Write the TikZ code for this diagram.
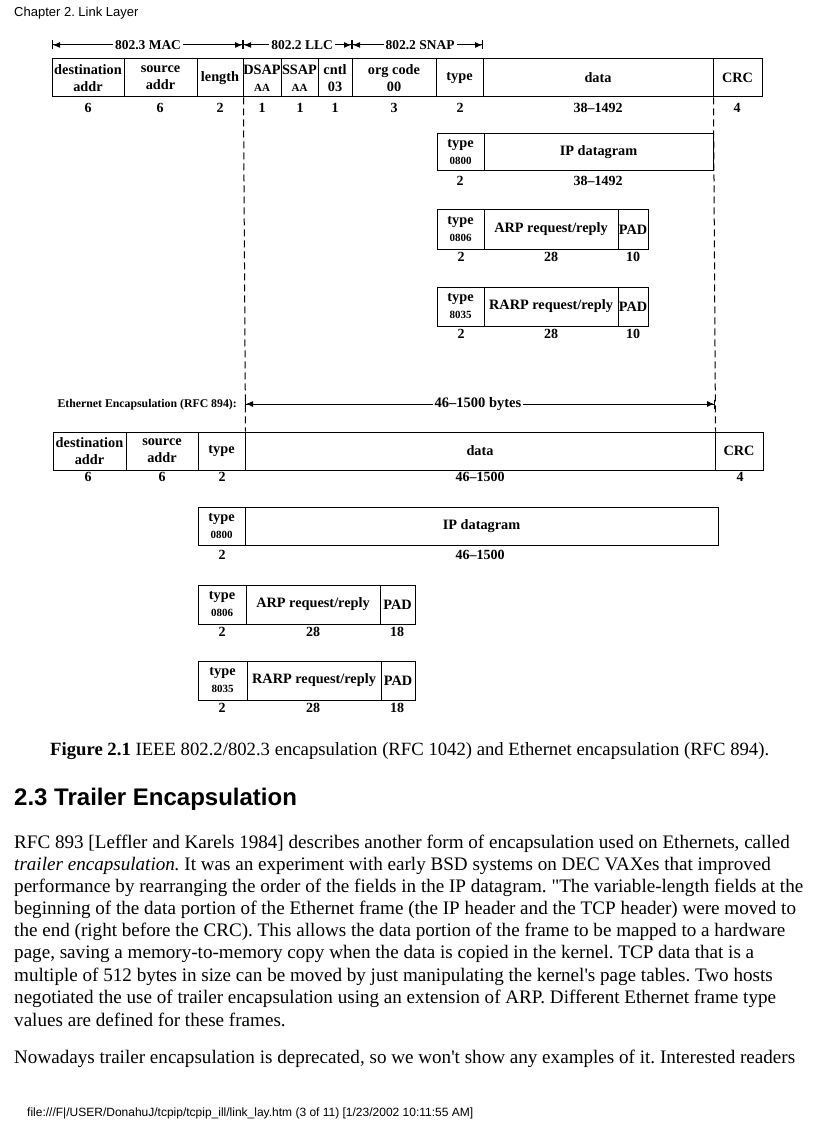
\documentclass[tikz,border=0pt]{standalone}
\usepackage{fontspec}
\setmainfont{Liberation Serif}
\newfontfamily\arialfont{Liberation Sans}
\usetikzlibrary{arrows.meta}
\frenchspacing
\tikzset{
  fieldbox/.style={draw, line width=1pt, inner sep=0pt, align=center,
    font=\fontsize{14.3}{17}\selectfont\bfseries},
  szlab/.style={inner sep=0pt, font=\fontsize{14}{14}\selectfont\bfseries},
  spanarrow/.style={line width=1pt, {Bar[width=9pt]Latex[length=7pt,width=6pt]}-{Latex[length=7pt,width=6pt]Bar[width=9pt]}},
  spanlab/.style={fill=white, inner sep=2pt, font=\fontsize{13.5}{14}\selectfont\bfseries},
  guide/.style={line width=1pt, dash pattern=on 7pt off 4pt},
  bodytext/.style={anchor=base west, inner sep=0pt, font=\fontsize{19.1}{22}\selectfont},
}
\newcommand\fld[6]{\node[fieldbox, minimum width={(#3-#2)*1pt}, minimum height={(#5-#4)*1pt}] (#1) at ({(#2+#3)/2},{(#4+#5)/2}) {#6};}
\newcommand\sz[4]{\node[szlab] (#1) at (#2,#3) {#4};}
\newcommand\sm[1]{{\fontsize{11}{12}\selectfont #1}}
\begin{document}
\begin{tikzpicture}[x=1pt,y=-1pt]
\useasboundingbox (0,0) rectangle (816,1123);
\fill[white] (0,0) rectangle (816,1123);

% header
\node[anchor=base west, inner sep=0pt, font=\arialfont\fontsize{13}{13}\selectfont] (hdr) at (14,17) {Chapter 2. Link Layer};

% ---------- IEEE 802.2/802.3 ----------
\coordinate (m0) at (52,45);
\coordinate (m1) at (243,45);
\coordinate (m2) at (352,45);
\coordinate (m3) at (483,45);
\draw[spanarrow] (m0) -- (m1);
\draw[spanarrow] (m1) -- (m2);
\draw[spanarrow] (m2) -- (m3);
\node[spanlab] (lmac) at (148,45) {802.3 MAC};
\node[spanlab] (lllc) at (302,45) {802.2 LLC};
\node[spanlab] (lsnap) at (420,45) {802.2 SNAP};

\fld{a1}{52}{124}{59}{97}{destination\\addr}
\fld{a2}{124}{197}{59}{97}{source\\addr}
\fld{a3}{197}{243}{59}{97}{length}
\fld{a4}{243}{281}{59}{97}{DSAP\\\sm{AA}}
\fld{a5}{281}{318}{59}{97}{SSAP\\\sm{AA}}
\fld{a6}{318}{352}{59}{97}{cntl\\03}
\fld{a7}{352}{436}{59}{97}{org code\\00}
\fld{a8}{436}{483}{59}{97}{type}
\fld{a9}{483}{713}{59}{97}{data}
\fld{a10}{713}{762}{59}{97}{CRC}
\sz{n1}{88}{108}{6}
\sz{n2}{160}{108}{6}
\sz{n3}{220}{108}{2}
\sz{n4}{262}{108}{1}
\sz{n5}{300}{108}{1}
\sz{n6}{335}{108}{1}
\sz{n7}{394}{108}{3}
\sz{n8}{460}{108}{2}
\sz{n9}{598}{108}{38--1492}
\sz{n10}{737}{108}{4}

\fld{b1}{437}{484}{134}{171}{type\\\sm{0800}}
\fld{b2}{484}{713}{134}{171}{IP datagram}
\sz{bn1}{460}{181}{2}
\sz{bn2}{598}{181}{38--1492}

\fld{c1}{437}{484}{210}{249}{type\\\sm{0806}}
\fld{c2}{484}{618}{210}{249}{ARP request/reply}
\fld{c3}{618}{648}{210}{249}{PAD}
\sz{cn1}{461}{257}{2}
\sz{cn2}{551}{257}{28}
\sz{cn3}{633}{257}{10}

\fld{d1}{437}{484}{287}{326}{type\\\sm{8035}}
\fld{d2}{484}{618}{287}{326}{RARP request/reply}
\fld{d3}{618}{648}{287}{326}{PAD}
\sz{dn1}{461}{334}{2}
\sz{dn2}{551}{334}{28}
\sz{dn3}{633}{334}{10}

% ---------- Ethernet (RFC 894) ----------
\node[anchor=east, inner sep=0pt, font=\fontsize{11.8}{12}\selectfont\bfseries] (ethlab) at (237,405) {Ethernet Encapsulation (RFC 894):};
\coordinate (e0) at (245,404);
\coordinate (e1) at (715,404);
\draw[spanarrow] (e0) -- (e1);
\node[spanlab, font=\fontsize{14.5}{15}\selectfont\bfseries] (lbytes) at (478,404) {46--1500 bytes};

\fld{f1}{53}{126}{432}{470}{destination\\addr}
\fld{f2}{126}{198}{432}{470}{source\\addr}
\fld{f3}{198}{245}{432}{470}{type}
\fld{f4}{245}{715}{432}{470}{data}
\fld{f5}{715}{763}{432}{470}{CRC}
\sz{fn1}{88}{477}{6}
\sz{fn2}{162}{477}{6}
\sz{fn3}{222}{477}{2}
\sz{fn4}{480}{477}{46--1500}
\sz{fn5}{740}{477}{4}

\fld{g1}{198}{245}{507}{545}{type\\\sm{0800}}
\fld{g2}{245}{718}{507}{545}{IP datagram}
\sz{gn1}{222}{555}{2}
\sz{gn2}{480}{555}{46--1500}

\fld{h1}{198}{246}{585}{624}{type\\\sm{0806}}
\fld{h2}{246}{380}{585}{624}{ARP request/reply}
\fld{h3}{380}{415}{585}{624}{PAD}
\sz{hn1}{222}{632}{2}
\sz{hn2}{313}{632}{28}
\sz{hn3}{397}{632}{18}

\fld{k1}{198}{247}{661}{700}{type\\\sm{8035}}
\fld{k2}{247}{381}{661}{700}{RARP request/reply}
\fld{k3}{381}{415}{661}{700}{PAD}
\sz{kn1}{222}{708}{2}
\sz{kn2}{313}{708}{28}
\sz{kn3}{397}{708}{18}

% dashed guides
\draw[guide] (a3.south east) -- (f3.north east);
\draw[guide] (a9.south east) -- (f4.north east);

% ---------- caption and text ----------
\node[bodytext, font=\fontsize{18.7}{22}\selectfont] (cap) at (50,755) {\textbf{Figure 2.1} IEEE 802.2/802.3 encapsulation (RFC 1042) and Ethernet encapsulation (RFC 894).};
\node[anchor=base west, inner sep=0pt, font=\arialfont\bfseries\fontsize{24}{26}\selectfont] (sec) at (14,805) {2.3 Trailer Encapsulation};

\node[bodytext] (p1) at (14,848) {RFC 893 [Leffler and Karels 1984] describes another form of encapsulation used on Ethernets, called};
\node[bodytext] (p2) at (14,870) {\textit{trailer encapsulation.} It was an experiment with early BSD systems on DEC VAXes that improved};
\node[bodytext] (p3) at (14,892) {performance by rearranging the order of the fields in the IP datagram. \textquotedbl The variable-length fields at the};
\node[bodytext] (p4) at (14,914) {beginning of the data portion of the Ethernet frame (the IP header and the TCP header) were moved to};
\node[bodytext] (p5) at (14,936) {the end (right before the CRC). This allows the data portion of the frame to be mapped to a hardware};
\node[bodytext] (p6) at (14,958) {page, saving a memory-to-memory copy when the data is copied in the kernel. TCP data that is a};
\node[bodytext] (p7) at (14,981) {multiple of 512 bytes in size can be moved by just manipulating the kernel\textquotesingle s page tables. Two hosts};
\node[bodytext] (p8) at (14,1003) {negotiated the use of trailer encapsulation using an extension of ARP. Different Ethernet frame type};
\node[bodytext] (p9) at (14,1026) {values are defined for these frames.};
\node[bodytext] (p10) at (14,1063) {Nowadays trailer encapsulation is deprecated, so we won\textquotesingle t show any examples of it. Interested readers};

\node[anchor=base west, inner sep=0pt, font=\arialfont\fontsize{12}{13}\selectfont] (ftr) at (27,1116) {file:///F|/USER/DonahuJ/tcpip/tcpip\_ill/link\_lay.htm (3 of 11) [1/23/2002 10:11:55 AM]};
\end{tikzpicture}
\end{document}
